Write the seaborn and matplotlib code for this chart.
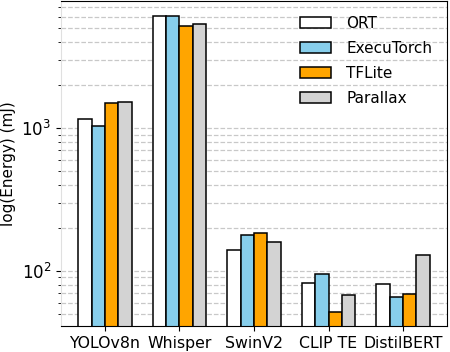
import matplotlib
matplotlib.use("Agg")
import matplotlib.pyplot as plt
import seaborn as sns
import pandas as pd

models = ["YOLOv8n", "Whisper", "SwinV2", "CLIP TE", "DistilBERT"]
frameworks = ["ORT", "ExecuTorch", "TFLite", "Parallax"]
# energy in mJ
ort = [1156, 6040, 140, 82, 81]
executorch = [1027, 6040, 177, 95, 66]
tflite = [1488, 5140, 184, 52, 69]
parallax = [1513, 5360, 159, 68, 129]
colors = ["white", "skyblue", "orange", "lightgray"]

rows = []
for fw, vals in zip(frameworks, [ort, executorch, tflite, parallax]):
    for m, v in zip(models, vals):
        rows.append({"model": m, "framework": fw, "energy": v})
df = pd.DataFrame(rows)

fig = plt.figure(figsize=(4.5, 3.52), dpi=100)
ax = fig.add_axes([0.1356, 0.074, 0.8577, 0.923])

sns.barplot(data=df, x="model", y="energy", hue="framework", hue_order=frameworks,
            palette=colors, width=0.72, edgecolor="black", linewidth=1.1,
            saturation=1, ax=ax)

ax.set_yscale("log")
ax.set_ylim(41.2, 7730)
ax.set_xlim(-0.59, 4.59)
ax.set_axisbelow(True)
ax.grid(True, which="both", axis="y", linestyle="--", color="#c8c8c8", linewidth=0.9)
ax.grid(False, axis="x")

ax.set_xlabel("")
ax.set_ylabel("log(Energy) (mJ)", fontsize=11)
ax.tick_params(axis="x", labelsize=11.3)
ax.tick_params(axis="y", labelsize=12)
ax.spines["left"].set_color("#e0e0e0")

ax.legend(loc="upper right", frameon=False, fontsize=11, handletextpad=1.0,
          labelspacing=0.65, bbox_to_anchor=(0.997, 0.997))

fig.savefig("out.png", dpi=100)
